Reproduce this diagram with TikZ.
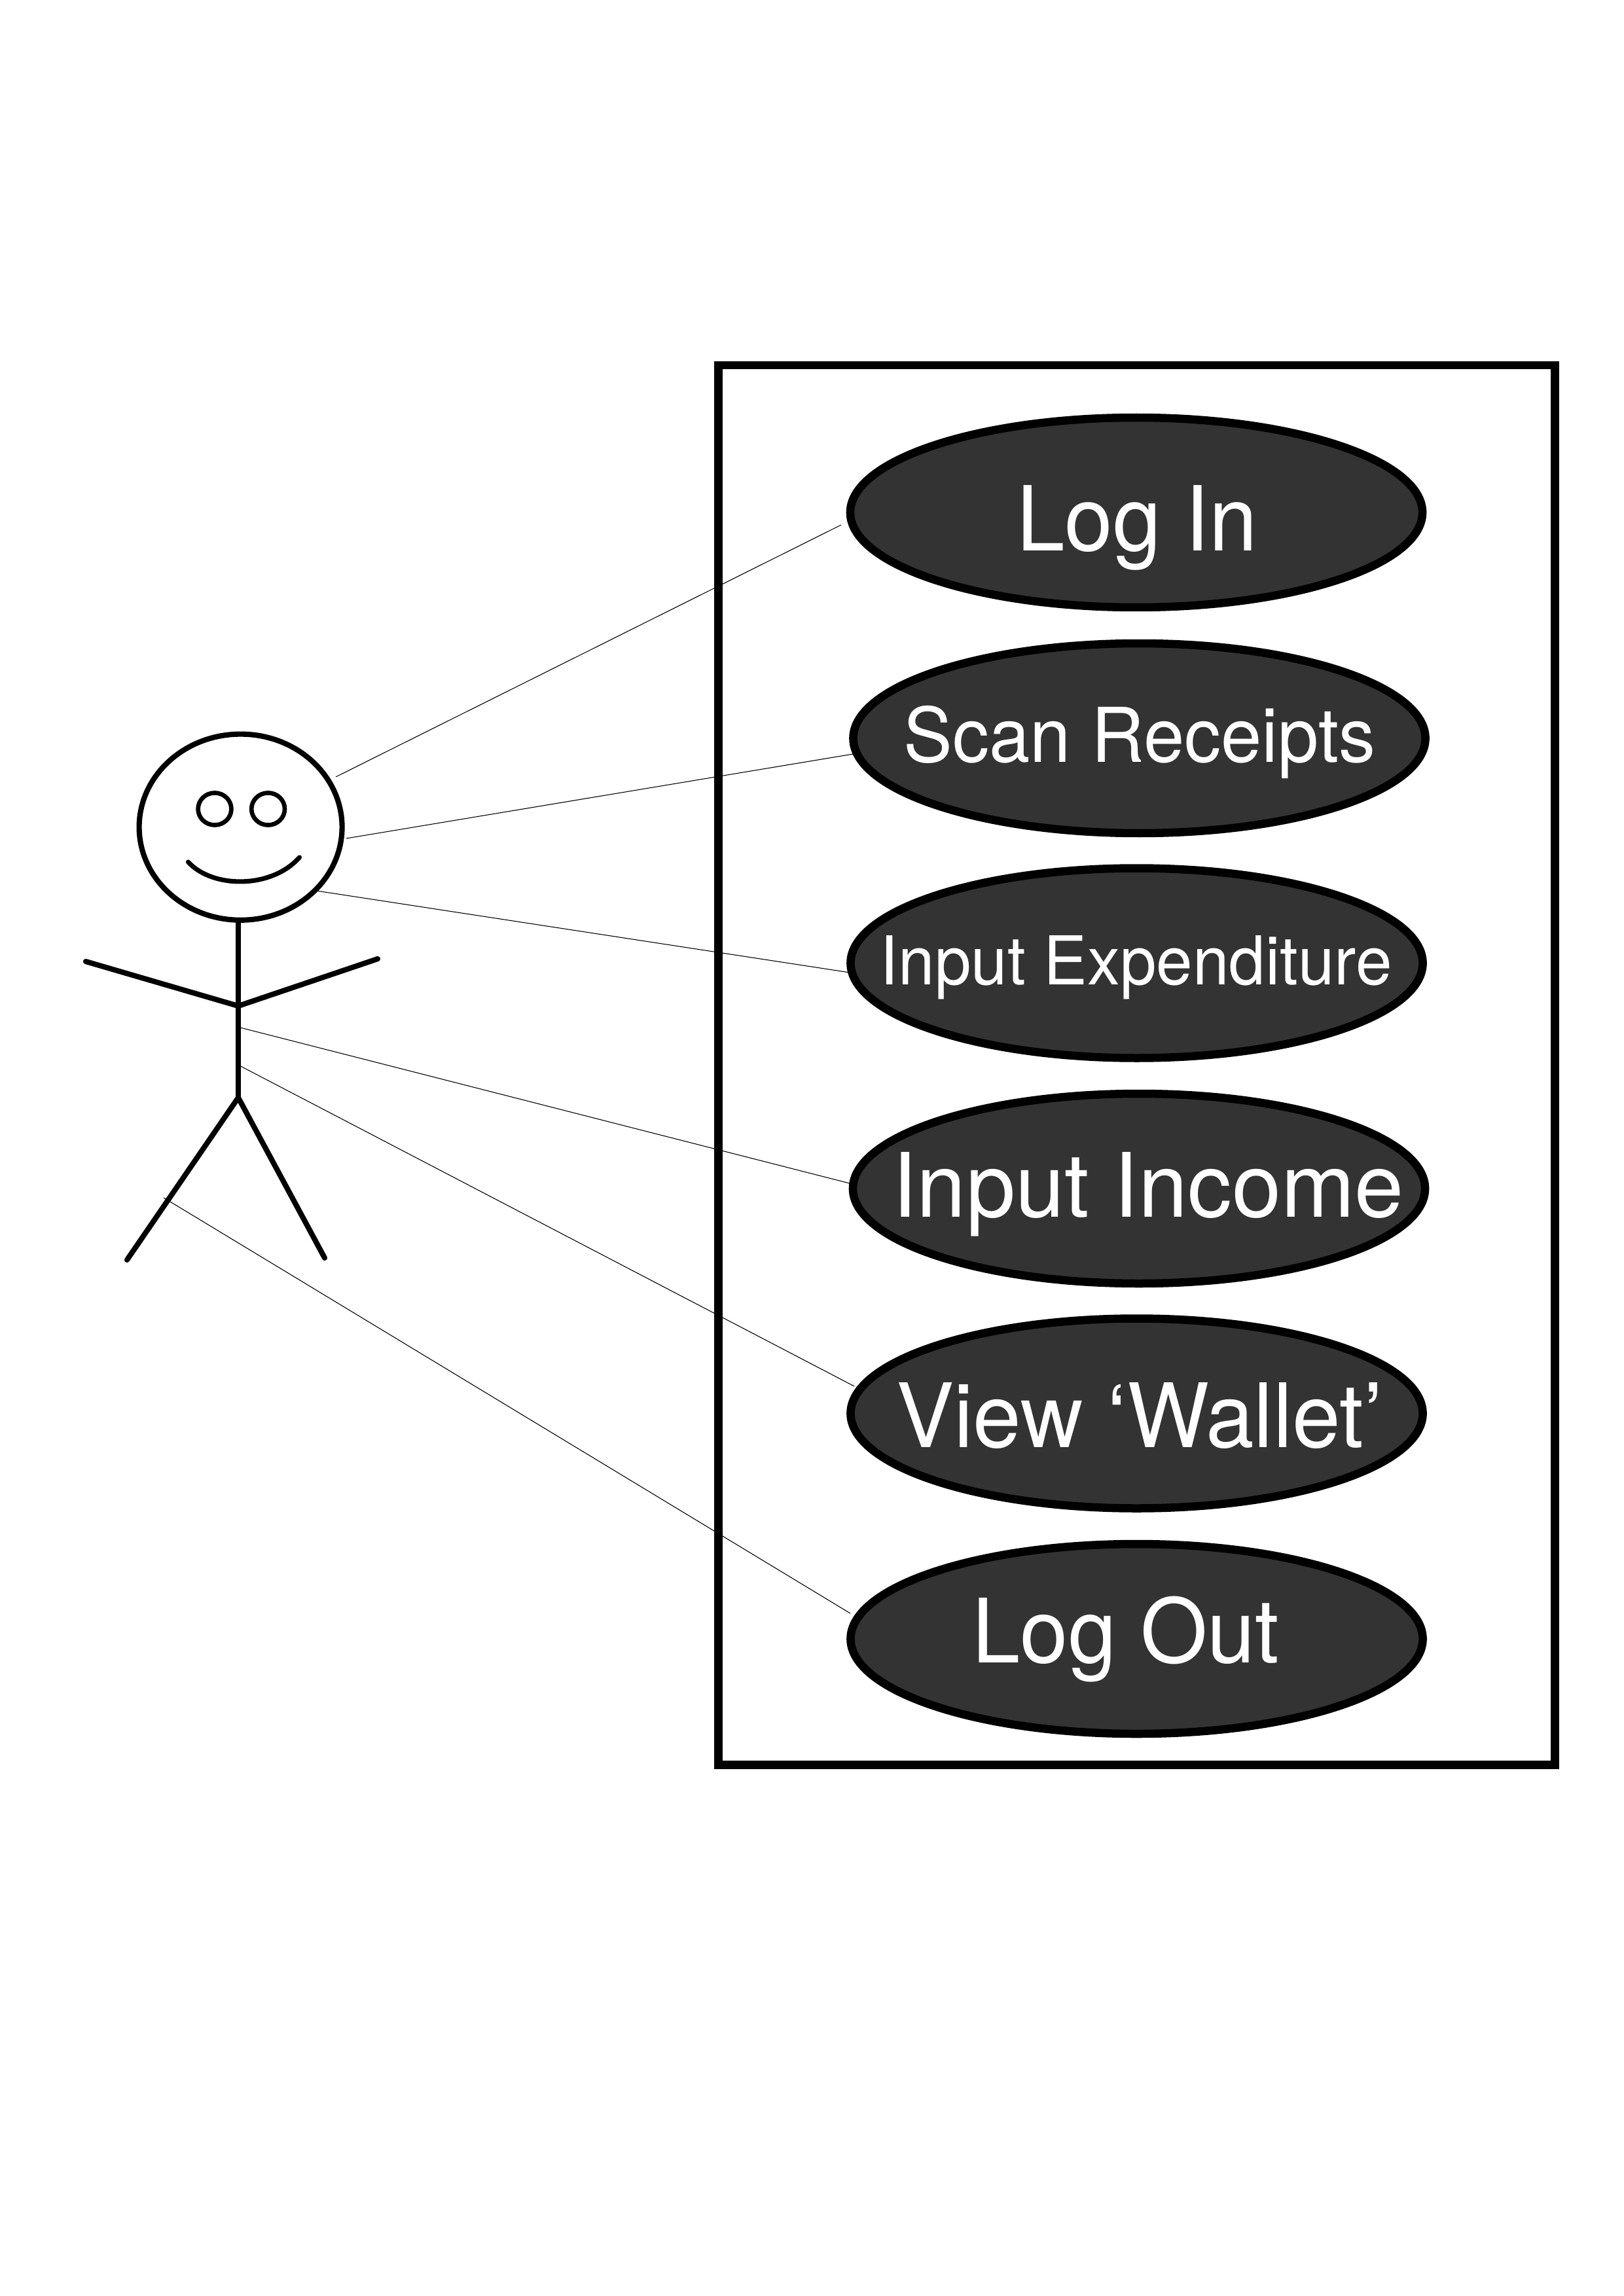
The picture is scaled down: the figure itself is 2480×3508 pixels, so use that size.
\documentclass[tikz,border=0pt]{standalone}
\usepackage{fontspec}
\setmainfont{TeX Gyre Heros}
\usetikzlibrary{shapes.geometric,backgrounds}
\definecolor{usefill}{HTML}{333333}
\tikzset{
  usecase/.style={ellipse,draw=black,fill=usefill,line width=3pt,minimum width=209.8pt,minimum height=69.6pt,inner sep=0pt,outer sep=0pt},
  usetext/.style={text=white,anchor=base,inner sep=0pt,outer sep=0pt},
  sysframe/.style={rectangle,draw=black,line width=3pt,minimum width=306.7pt,minimum height=513.2pt,inner sep=0pt,outer sep=0pt},
  figure/.style={draw=black,line width=1.95pt,line cap=round,line join=round},
  headshape/.style={ellipse,draw=black,line width=1.95pt,minimum width=74.4pt,minimum height=68.2pt,inner sep=0pt,outer sep=0pt},
  eyeshape/.style={ellipse,draw=black,line width=1.6pt,minimum width=12.2pt,minimum height=11.8pt,inner sep=0pt,outer sep=0pt},
  assoc/.style={draw=black,line width=0.26pt}
}
\begin{document}
\begin{tikzpicture}[x=0.24pt,y=-0.24pt]
\useasboundingbox (0,0) rectangle (2480,3508);
% system frame
\node[sysframe] (frame) at (1736.5,1627.25) {};
% use cases
\node[usecase] (e1) at (1736,783) {};
\node[usecase] (e2) at (1740.5,1128) {};
\node[usecase] (e3) at (1736.5,1471.5) {};
\node[usecase] (e4) at (1740,1816) {};
\node[usecase] (e5) at (1736.5,2159.5) {};
\node[usecase] (e6) at (1736.5,2504) {};
% labels
\node[usetext,xscale=0.965] (t1) at (1737,842) {\fontsize{32.9pt}{38pt}\selectfont Log In};
\node[usetext,xscale=0.97] (t2) at (1741,1164) {\fontsize{27.7pt}{33pt}\selectfont Scan Receipts};
\node[usetext,xscale=0.97] (t3) at (1735.5,1504) {\fontsize{24.7pt}{30pt}\selectfont Input Expenditure};
\node[usetext,xscale=0.995] (t4) at (1754,1859) {\fontsize{32.6pt}{38pt}\selectfont Input Income};
\node[usetext,xscale=0.975] (t5) at (1741,2211) {\fontsize{32.6pt}{38pt}\selectfont View ‘Wallet’};
\node[usetext,xscale=0.97] (t6) at (1720,2540) {\fontsize{32.6pt}{38pt}\selectfont Log Out};
% actor
\node[headshape] (head) at (367.6,1263.7) {};
\node[eyeshape] (eyeL) at (328,1236) {};
\node[eyeshape] (eyeR) at (409.6,1236) {};
\coordinate (smileL) at (287.5,1317);
\coordinate (smileR) at (457.5,1310);
\coordinate (neck) at (364,1410);
\coordinate (shoulder) at (364,1537);
\coordinate (hip) at (364,1677);
\coordinate (handL) at (131,1469);
\coordinate (handR) at (577,1465);
\coordinate (footL) at (194,1925);
\coordinate (footR) at (496,1922);
\draw[figure,line width=1.7pt] (smileL) .. controls (325,1358) and (415,1358) .. (smileR);
\draw[figure] (neck) -- (hip);
\draw[figure] (handL) -- (shoulder) -- (handR);
\draw[figure] (footL) -- (hip) -- (footR);
% connector ends on the actor
\coordinate (a1) at (513,1187);
\coordinate (a2) at (529,1281);
\coordinate (a3) at (477,1360);
\coordinate (a4) at (363,1569);
\coordinate (a5) at (360,1625);
\coordinate (a6) at (250,1830);
\begin{scope}[on background layer]
\draw[assoc] (a1) -- ([shift={(-451,19)}]e1.center);
\draw[assoc] (a2) -- ([shift={(-431,23)}]e2.center);
\draw[assoc] (a3) -- ([shift={(-438,14.5)}]e3.center);
\draw[assoc] (a4) -- ([shift={(-438,-7)}]e4.center);
\draw[assoc] (a5) -- ([shift={(-431.5,-41.5)}]e5.center);
\draw[assoc] (a6) -- ([shift={(-437.5,-39)}]e6.center);
\end{scope}
\end{tikzpicture}
\end{document}
